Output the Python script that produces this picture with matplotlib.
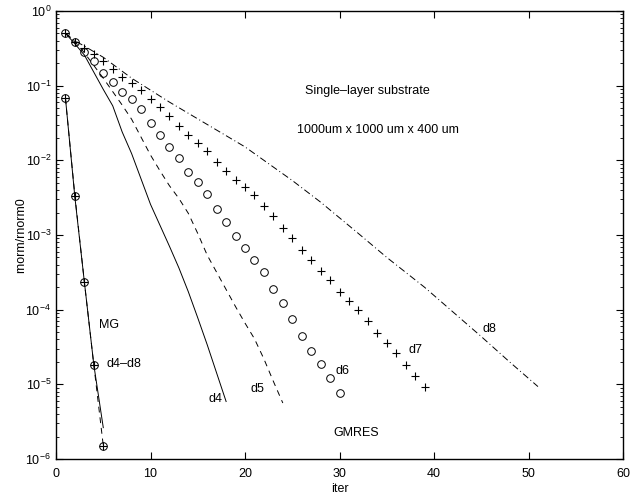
import matplotlib
matplotlib.use("Agg")
import matplotlib.pyplot as plt
import numpy as np

plt.rcParams['font.family'] = ['Liberation Sans', 'DejaVu Sans']
plt.rcParams['mathtext.fontset'] = 'custom'
plt.rcParams['mathtext.rm'] = 'Liberation Sans'

# ---- data (log10 of rnorm/rnorm0) ----
mg_iter = [1, 2, 3, 4, 5]
mg_solid_log = [-1.17, -2.50, -3.63, -4.74, -5.58]
mg_dash_log = [-1.17, -2.48, -3.63, -4.74, -5.82]

d4_iter = [1, 2, 3, 4, 5, 6, 7, 8, 9, 10, 11, 12, 13, 14, 15, 16, 17, 18]
d4_log = [-0.30, -0.44, -0.59, -0.82, -1.05, -1.27, -1.62, -1.91, -2.25, -2.59,
          -2.87, -3.15, -3.44, -3.76, -4.11, -4.47, -4.85, -5.23]

d5_iter = list(range(1, 25))
d5_log = [-0.30, -0.41, -0.56, -0.73, -0.90, -1.08, -1.26, -1.45, -1.69, -1.93,
          -2.14, -2.34, -2.51, -2.71, -2.98, -3.27, -3.50, -3.73, -3.96, -4.18,
          -4.39, -4.66, -4.96, -5.25]

d6_iter = list(range(3, 31))
d6_log = [-0.545, -0.67, -0.826, -0.947, -1.08, -1.18, -1.31, -1.50, -1.66, -1.82,
          -1.97, -2.15, -2.29, -2.45, -2.65, -2.83, -3.01, -3.17, -3.33, -3.50,
          -3.72, -3.91, -4.12, -4.35, -4.55, -4.73, -4.91, -5.12]

d7_iter = list(range(3, 40))
d7_log = [-0.50, -0.576, -0.67, -0.777, -0.888, -0.96, -1.06, -1.18, -1.29, -1.41,
          -1.54, -1.66, -1.77, -1.88, -2.02, -2.14, -2.26, -2.36, -2.47, -2.61,
          -2.75, -2.90, -3.04, -3.20, -3.34, -3.48, -3.60, -3.76, -3.88, -4.00,
          -4.15, -4.31, -4.44, -4.58, -4.74, -4.89, -5.04]

d8_iter = [1, 2, 3, 5, 8, 12, 16, 20, 25, 28, 32, 35, 39, 42, 45, 48, 51]
d8_log = [-0.30, -0.40, -0.47, -0.62, -0.90, -1.22, -1.52, -1.82, -2.27, -2.56,
          -2.98, -3.30, -3.70, -4.03, -4.36, -4.70, -5.03]

start_iter = [1, 2]
start_log = [-0.30, -0.41]

x_ticks = [0, 10, 20, 30, 40, 50, 60]

def v(a):
    return 10.0 ** np.asarray(a)

fig = plt.figure(figsize=(6.44, 4.95), dpi=100)
ax = fig.add_axes([0.087, 0.0727, 0.8804, 0.9051])

lw = 0.7
ms = 5.5
# GMRES curves
ax.plot(d4_iter, v(d4_log), color='k', lw=lw, ls='-')
ax.plot(d5_iter, v(d5_log), color='k', lw=lw, ls=(0, (6, 5)))
ax.plot(d6_iter, v(d6_log), color='k', lw=0, marker='o', ms=ms, mfc='none', mew=0.7)
ax.plot(d7_iter, v(d7_log), color='k', lw=0, marker='+', ms=ms + 0.5, mew=0.8)
ax.plot(d8_iter, v(d8_log), color='k', lw=lw, ls=(0, (7, 3, 1, 3)))
ax.plot(start_iter, v(start_log), color='k', lw=0, marker='o', ms=ms, mfc='none', mew=0.7)
ax.plot(start_iter, v(start_log), color='k', lw=0, marker='+', ms=ms + 0.5, mew=0.8)

# MG curves
ax.plot(mg_iter, v(mg_solid_log), color='k', lw=lw, ls='-')
ax.plot(mg_iter, v(mg_dash_log), color='k', lw=lw, ls=(0, (6, 5)))
ax.plot(mg_iter, v(mg_dash_log), color='k', lw=0, marker='o', ms=ms, mfc='none', mew=0.7)
ax.plot(mg_iter, v(mg_dash_log), color='k', lw=0, marker='+', ms=ms + 0.5, mew=0.8)

ax.set_yscale('log')
ax.set_xlim(0, 60)
ax.set_ylim(1e-6, 1)
ax.set_xticks(x_ticks)
ax.tick_params(which='both', direction='in', top=True, right=True, labelsize=9)
ax.tick_params(which='major', length=5, width=0.8)
ax.tick_params(which='minor', length=2.5, width=0.6)
ax.tick_params(axis='x', which='minor', bottom=False, top=False)
ax.tick_params(axis='x', which='major', pad=6.5)
for s in ax.spines.values():
    s.set_linewidth(1.0)

ax.set_xlabel('iter', fontsize=9, labelpad=2)
ax.set_ylabel('rnorm/rnorm0', fontsize=9, labelpad=-1)

fs = 9
ax.text(4.5, 10 ** -4.20, 'MG', fontsize=fs, ha='left', va='center')
ax.text(5.36, 10 ** -4.73, 'd4\u2013d8', fontsize=fs, ha='left', va='center')
ax.text(16.1, 10 ** -5.20, 'd4', fontsize=fs, ha='left', va='center')
ax.text(20.6, 10 ** -5.06, 'd5', fontsize=fs, ha='left', va='center')
ax.text(29.6, 10 ** -4.82, 'd6', fontsize=fs, ha='left', va='center')
ax.text(37.25, 10 ** -4.54, 'd7', fontsize=fs, ha='left', va='center')
ax.text(45.1, 10 ** -4.26, 'd8', fontsize=fs, ha='left', va='center')
ax.text(31.75, 10 ** -5.65, 'GMRES', fontsize=fs, ha='center', va='center')
ax.text(32.9, 10 ** -1.067, 'Single\u2013layer substrate', fontsize=fs, ha='center', va='center')
ax.text(34.1, 10 ** -1.594, '1000um x 1000 um x 400 um', fontsize=fs, ha='center', va='center')

fig.savefig('out.png', dpi=100)
